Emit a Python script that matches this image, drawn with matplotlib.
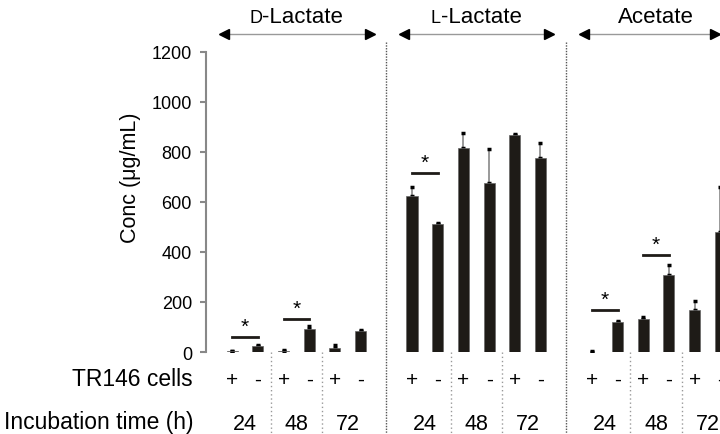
import matplotlib
matplotlib.use("Agg")
import matplotlib.pyplot as plt
from matplotlib.offsetbox import TextArea, HPacker, AnnotationBbox

plt.rcParams['font.family'] = ['Liberation Sans', 'DejaVu Sans']

# data
groups = ["Lactate", "Lactate", "Acetate"]
prefixes = ["D", "L", ""]          # small-cap prefix
times = ["24", "48", "72"]
cells = ["+", "-"]

d_lactate = [3, 23, 5, 92, 15, 85]
d_lactate_err = [1, 4, 3, 11, 14, 4]
l_lactate = [623, 511, 815, 676, 869, 775]
l_lactate_err = [38, 5, 61, 136, 3, 60]
acetate = [2, 119, 132, 308, 169, 479]
acetate_err = [1, 5, 8, 40, 35, 182]

values = [d_lactate, l_lactate, acetate]
errors = [d_lactate_err, l_lactate_err, acetate_err]

# significance: (bar a, bar b, height)
sig = [[(0, 1, 59), (2, 3, 131)],
       [(0, 1, 716)],
       [(0, 1, 169), (2, 3, 388)]]

fig = plt.figure(figsize=(7.2, 4.35), dpi=100)
ax = fig.add_axes([0.2868, 0.1885, 0.7493, 0.6897])

bar_col = '#1e1b17'
for g in range(3):
    xs = [g * 7 + i for i in range(6)]
    ax.bar(xs, values[g], width=0.43, color=bar_col, edgecolor='#666', linewidth=0.5, zorder=3)
    eb = ax.errorbar(xs, values[g], yerr=[[0] * 6, errors[g]], fmt='none',
                     ecolor='#888', elinewidth=1.2, capsize=1.6, capthick=2.5, zorder=2)
    for cl in eb[1]:
        cl.set_color('black')
        cl.set_markeredgecolor('black')
    # significance bars
    for a, b, h in sig[g]:
        ax.plot([g * 7 + a, g * 7 + b], [h, h], color=bar_col, lw=2, clip_on=False)
        ax.text(g * 7 + (a + b) / 2, h + 4, "*", ha='center', va='bottom', fontsize=15)
    # +/- labels and time labels
    for i, x in enumerate(xs):
        ax.text(x, -0.09, cells[i % 2], transform=ax.get_xaxis_transform(),
                ha='center', va='center', fontsize=15)
    for t in range(3):
        ax.text(g * 7 + 2 * t + 0.5, -0.237, times[t], transform=ax.get_xaxis_transform(),
                ha='center', va='center', fontsize=15.5)
    # small dotted separators between time points
    for t in (1.5, 3.5):
        ax.plot([g * 7 + t] * 2, [0, -0.273], transform=ax.get_xaxis_transform(),
                color='#999', lw=1, ls=(0, (1, 2)), clip_on=False)
    # big dotted separators between compounds
    if g < 2:
        ax.plot([g * 7 + 6] * 2, [1.033, -0.273], transform=ax.get_xaxis_transform(),
                color='#555', lw=1, ls=(0, (1, 1)), clip_on=False)
    # arrows and group titles
    x0 = g * 7 - 0.45
    x1 = min(g * 7 + 5.5, 18.95)
    ax.plot([x0, x1], [1272, 1272], color='#999', lw=1, clip_on=False)
    ax.plot([x0 + 0.15], [1272], marker='<', color='black', ms=7, clip_on=False)
    ax.plot([x1 - 0.15], [1272], marker='>', color='black', ms=7, clip_on=False)
    if prefixes[g]:
        box = HPacker(children=[TextArea(prefixes[g], textprops=dict(fontsize=13)),
                                TextArea("-" + groups[g], textprops=dict(fontsize=16))],
                      align="baseline", pad=0, sep=0)
    else:
        box = TextArea(groups[g], textprops=dict(fontsize=16))
    ab = AnnotationBbox(box, (g * 7 + 2.5, 1340), xycoords='data', frameon=False,
                        box_alignment=(0.5, 0.5), annotation_clip=False)
    ax.add_artist(ab)

ax.set_xlim(-1, 20)
ax.set_ylim(0, 1200)
ax.set_yticks([0, 200, 400, 600, 800, 1000, 1200])
ax.set_xticks([])
for s in ['top', 'right', 'bottom']:
    ax.spines[s].set_visible(False)
ax.spines['left'].set_color('#888')
ax.spines['left'].set_linewidth(1.5)
ax.tick_params(axis='y', length=4, width=1.5, color='#888', pad=6.5, labelsize=13)

ax.text(-0.14, 0.583, "Conc (μg/mL)", transform=ax.transAxes, rotation=90,
        ha='center', va='center', fontsize=15.5)
fig.text(193 / 720, 1 - 380 / 435, "TR146 cells", ha='right', va='center', fontsize=16.5)
fig.text(193 / 720, 1 - 423 / 435, "Incubation time (h)", ha='right', va='center', fontsize=16.5)

fig.savefig("out.png", dpi=100)
